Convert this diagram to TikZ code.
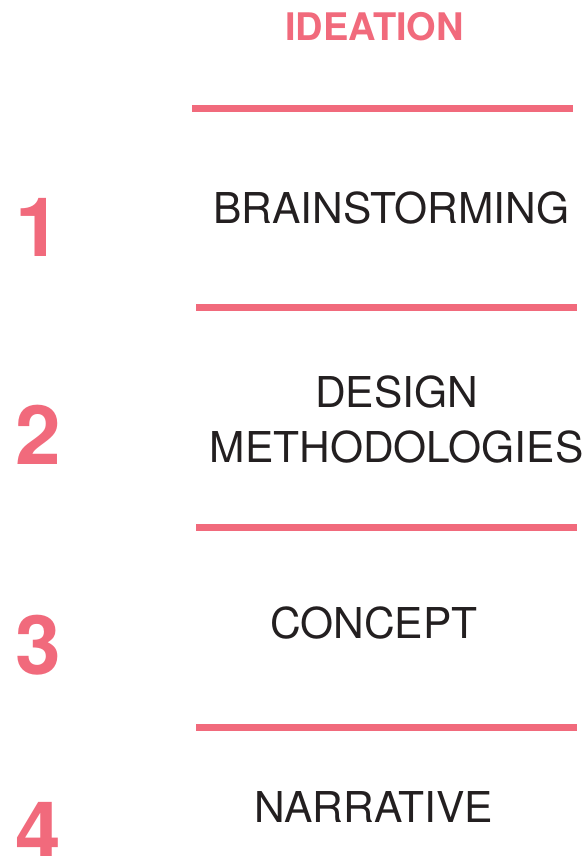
\documentclass[tikz,border=0pt]{standalone}
\usepackage{fontspec}
\setmainfont{TeX Gyre Heros}
\definecolor{ideapink}{RGB}{241,106,124}
\definecolor{inkblack}{RGB}{35,31,32}
\tikzset{
  rule/.style={draw=ideapink, line width=7pt},
  stepnum/.style={anchor=base west, inner sep=0pt, text=ideapink,
    font=\bfseries\fontsize{82}{82}\selectfont},
  steptext/.style={anchor=base, inner sep=0pt, text=inkblack,
    font=\fontsize{42.5}{50}\selectfont},
}
\begin{document}
\begin{tikzpicture}[x=1pt,y=-1pt]
  \useasboundingbox (0,0) rectangle (588,856);
  \node[anchor=base, inner sep=0pt, text=ideapink,
    font=\bfseries\fontsize{38}{40}\selectfont] (title) at (374.5,41) {IDEATION};
  \draw
    (15,256) node[stepnum] (n1){1}
    (15,464) node[stepnum] (n2){2}
    (15,674) node[stepnum] (n3){3}
    (15,860) node[stepnum] (n4){4};
  \draw
    (391.5,223) node[steptext] (brain){BRAINSTORMING}
    (396.5,407) node[steptext] (design){DESIGN}
    (396.5,462) node[steptext] (methods){METHODOLOGIES}
    (374,638) node[steptext] (concept){CONCEPT}
    (373.5,822) node[steptext] (narrative){NARRATIVE};
  \begin{scope}[rule]
    \draw (192,108.5) -- (573,108.5);
    \draw (196,307.5) -- (577,307.5);
    \draw (196,527.5) -- (577,527.5);
    \draw (196,727.5) -- (577,727.5);
  \end{scope}
\end{tikzpicture}
\end{document}
